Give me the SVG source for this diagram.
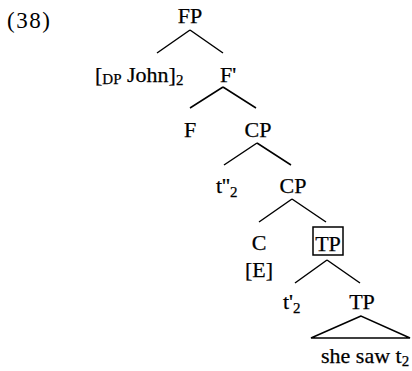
<svg xmlns="http://www.w3.org/2000/svg" width="412" height="371" viewBox="0 0 412 371">
<style>
text{font-family:"Liberation Serif","Times New Roman",serif;font-size:22px;fill:#000;stroke:#000;stroke-width:0.25}
.c{text-anchor:middle}
.s{font-size:15px}
.n{stroke-width:0;font-size:23px;letter-spacing:1.5px}
.e{stroke:#000;stroke-width:1.5;fill:none}
</style>
<rect width="412" height="371" fill="#fff"/>
<text class="n" x="7" y="28">(38)</text>
<g id="connectors" class="e">
<path d="M190,30L157,53M190,30L223,53"/>
<path d="M223,87L190,108M223,87L256,108"/>
<path d="M257,143L224,165M257,143L291,165"/>
<path d="M292,199L259,222M292,199L326,222"/>
<path d="M327,260L295,283M327,260L360,283"/>
</g>
<g id="FP"><text class="c" x="190" y="23">FP</text></g>
<g id="John"><text x="95" y="82">[<tspan class="s" dy="2">DP</tspan><tspan dy="-2"> John]</tspan><tspan class="s" dy="3">2</tspan></text></g>
<g id="Fbar"><text class="c" x="228" y="82">F'</text></g>
<g id="F"><text class="c" x="190" y="137">F</text></g>
<g id="CP1"><text class="c" x="258" y="137">CP</text></g>
<g id="t2dd"><text x="216" y="193">t''<tspan class="s" dy="4">2</tspan></text></g>
<g id="CP2"><text class="c" x="293" y="193">CP</text></g>
<g id="C"><text class="c" x="259" y="250">C</text><text class="c" x="259" y="277">[E]</text></g>
<g id="TP1"><rect class="e" x="313" y="227" width="30" height="28" stroke-width="1.2"/><text class="c" x="328" y="251">TP</text></g>
<g id="t2d"><text x="283" y="309">t'<tspan class="s" dy="4">2</tspan></text></g>
<g id="TP2"><text class="c" x="362" y="309">TP</text><path class="e" d="M361,316L311,338L410,338Z"/></g>
<g id="she"><text x="321" y="363">she saw t<tspan class="s" dy="3">2</tspan></text></g>
</svg>
